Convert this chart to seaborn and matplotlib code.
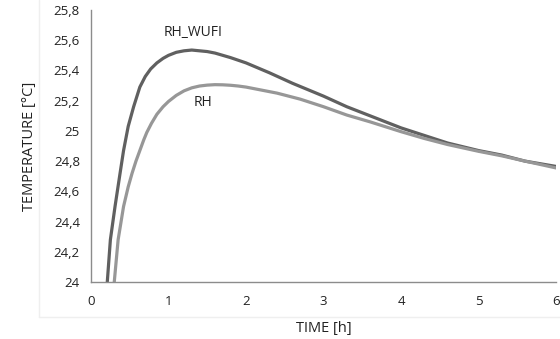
import pandas as pd
import matplotlib
matplotlib.use("Agg")
import matplotlib.pyplot as plt
import seaborn as sns
from matplotlib.ticker import FuncFormatter, MultipleLocator
from matplotlib.lines import Line2D

# values
wufi_time = [0.21, 0.25, 0.31, 0.375, 0.42, 0.48, 0.55, 0.63, 0.70, 0.77, 0.85, 0.93, 1.0, 1.1,
             1.2, 1.3, 1.4, 1.5, 1.6, 1.8, 2.0, 2.3, 2.6, 3.0, 3.3, 3.6, 4.0, 4.3, 4.6, 5.0,
             5.3, 5.6, 6.0]
wufi_temp = [24.00, 24.28, 24.50, 24.72, 24.87, 25.03, 25.16, 25.29, 25.36, 25.41, 25.45, 25.48, 25.50, 25.52,
             25.53, 25.535, 25.53, 25.525, 25.515, 25.485, 25.45, 25.385, 25.315, 25.23, 25.16, 25.10, 25.02, 24.97, 24.92, 24.87,
             24.84, 24.80, 24.765]

rh_time = [0.30, 0.35, 0.42, 0.48, 0.53, 0.58, 0.63, 0.68, 0.72, 0.78, 0.85, 0.93, 1.0, 1.1,
           1.2, 1.3, 1.4, 1.5, 1.6, 1.7, 1.8, 1.9, 2.0, 2.2, 2.4, 2.7, 3.0, 3.3, 3.6, 4.0,
           4.3, 4.6, 5.0, 5.3, 5.6, 6.0]
rh_temp = [24.00, 24.28, 24.50, 24.63, 24.72, 24.80, 24.87, 24.94, 24.99, 25.05, 25.11, 25.16, 25.195, 25.235,
           25.265, 25.285, 25.297, 25.303, 25.306, 25.305, 25.302, 25.297, 25.29, 25.27, 25.25, 25.21, 25.16, 25.105, 25.06, 24.995,
           24.95, 24.91, 24.865, 24.835, 24.80, 24.755]

series_names = ["RH_WUFI", "RH"]
series_colors = ["#606060", "#979797"]

df = pd.concat([
    pd.DataFrame({"time": wufi_time, "temp": wufi_temp, "series": series_names[0]}),
    pd.DataFrame({"time": rh_time, "temp": rh_temp, "series": series_names[1]}),
])

sns.set_style("white")
plt.rcParams["font.family"] = ["Open Sans", "DejaVu Sans"]

fig = plt.figure(figsize=(5.6, 3.39), dpi=100)

# faint chart-area border (drawn first, behind everything)
fig.add_artist(Line2D([39 / 560, 39 / 560], [1, 1 - 317 / 339], transform=fig.transFigure,
                      color="#efefef", linewidth=1, zorder=0))
fig.add_artist(Line2D([39 / 560, 1], [1 - 317 / 339, 1 - 317 / 339], transform=fig.transFigure,
                      color="#efefef", linewidth=1, zorder=0))

ax = fig.add_axes([0.1625, 0.168, 0.8305, 0.8025])
ax.patch.set_alpha(0)

sns.lineplot(data=df, x="time", y="temp", hue="series", palette=dict(zip(series_names, series_colors)),
             linewidth=2.3, legend=False, sort=False, estimator=None, ax=ax)
for line in ax.lines:
    line.set_solid_joinstyle("round")

ax.set_xlim(0, 6)
ax.set_ylim(24, 25.8)
ax.xaxis.set_major_locator(MultipleLocator(1))
ax.yaxis.set_major_locator(MultipleLocator(0.2))
ax.yaxis.set_major_formatter(FuncFormatter(lambda v, p: f"{v:g}".replace(".", ",")))

for side in ["top", "right"]:
    ax.spines[side].set_visible(False)
for side in ["left", "bottom"]:
    ax.spines[side].set_color("#8c8c8c")
    ax.spines[side].set_linewidth(1.0)
ax.tick_params(axis="both", which="major", length=4, width=1, color="#8c8c8c",
               labelsize=9.5, labelcolor="#222222", direction="out")
ax.tick_params(axis="x", pad=5)
ax.tick_params(axis="y", pad=4)

ax.set_xlabel("TIME [h]", fontsize=10.5, color="#222222", labelpad=10)
ax.set_ylabel("TEMPERATURE [°C]", fontsize=10.5, color="#222222", labelpad=12)

ax.text(1.32, 25.65, "RH_WUFI", fontsize=10, color="#222222", ha="center", va="center")
ax.text(1.45, 25.185, "RH", fontsize=10, color="#222222", ha="center", va="center")

fig.savefig("out.png", dpi=100)
